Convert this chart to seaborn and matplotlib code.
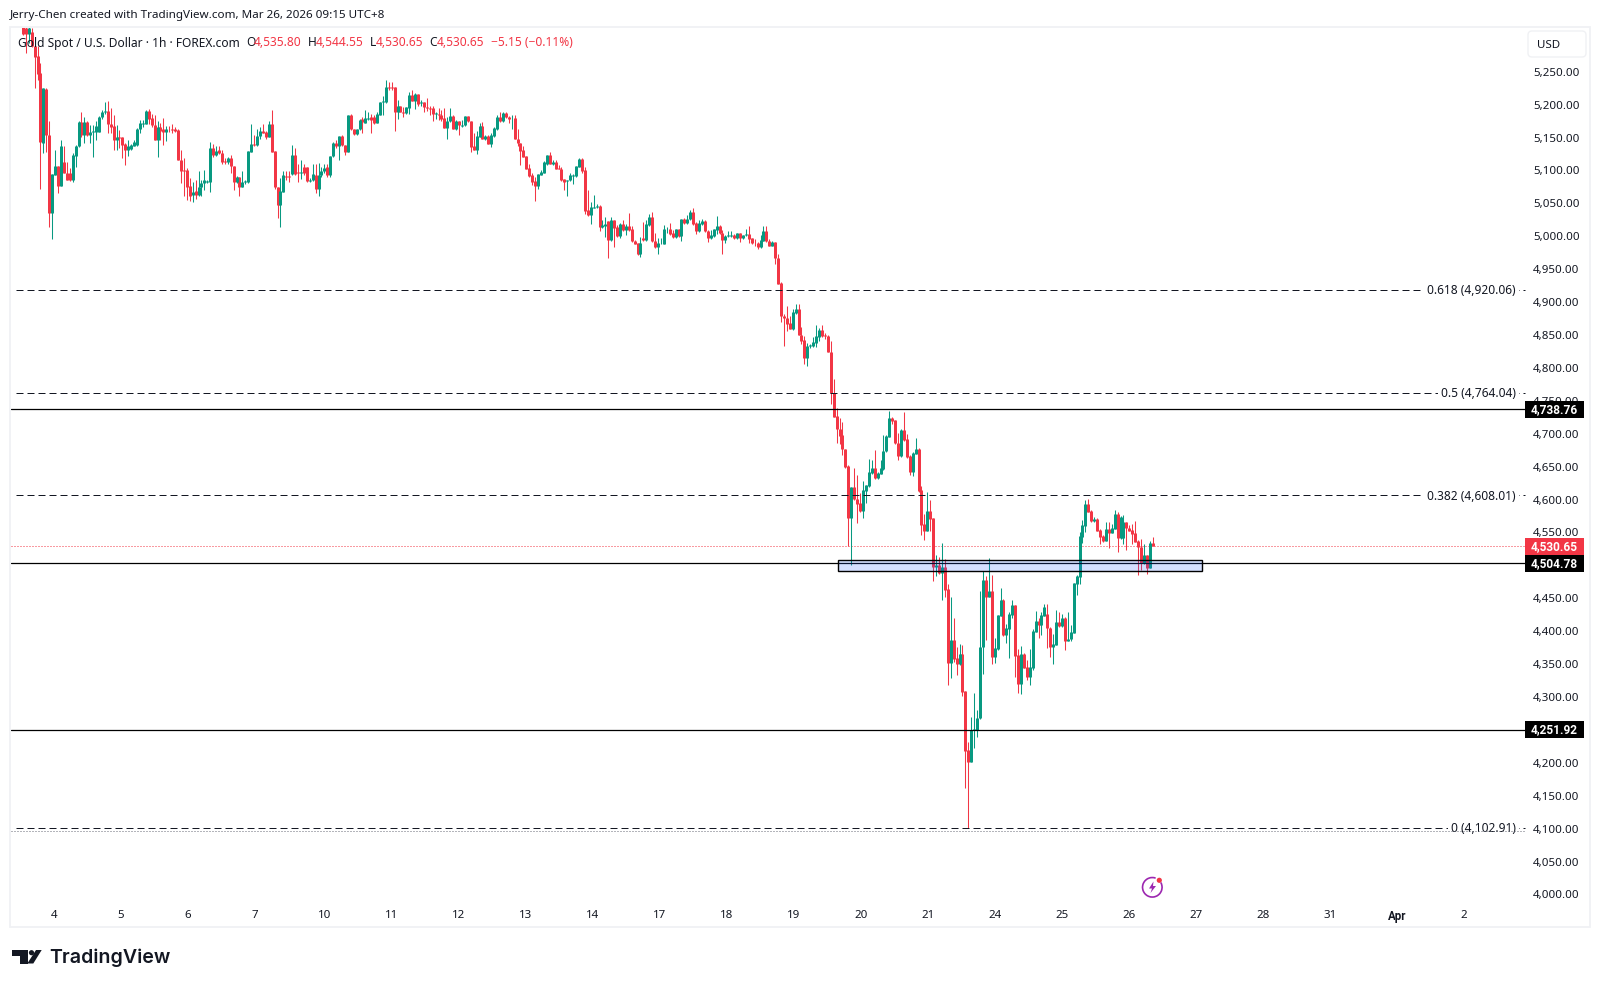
import numpy as np
import pandas as pd
import matplotlib
matplotlib.use("Agg")
import matplotlib.pyplot as plt
from matplotlib.patches import Rectangle, Polygon, Circle, Arc, FancyBboxPatch
from matplotlib.transforms import blended_transform_factory, ScaledTranslation
import seaborn as sns

# Hourly XAU/USD candles, oldest first
opens = [
    5326,5318,5309,5312,5290,5275,5249,5143,5225,5156,5037,5095,5108,5078,5114,5097,5097,5087,5124,5138,
    5175,5155,5175,5155,5160,5160,5160,5182,5190,5192,5172,5169,5147,5152,5152,5141,5132,5134,5139,5140,
    5164,5172,5172,5192,5181,5171,5148,5168,5165,5160,5165,5165,5164,5163,5118,5102,5102,5078,5064,5070,
    5064,5076,5082,5084,5084,5135,5125,5132,5128,5116,5115,5121,5109,5084,5092,5077,5084,5084,5130,5142,
    5140,5154,5162,5160,5153,5172,5131,5076,5049,5069,5093,5093,5096,5125,5099,5097,5106,5106,5086,5087,
    5095,5073,5094,5100,5106,5094,5123,5143,5138,5154,5140,5130,5185,5164,5157,5164,5179,5174,5180,5183,
    5182,5174,5186,
    5206,5206,5228,5228,5228,5190,5199,5191,5189,5197,
    5216,5207,5218,5204,5205,5198,5197,5196,5187,5188,
    5185,5181,5166,5176,5184,5164,5177,5169,5170,5184,
    5176,5138,5132,5153,5169,5149,5154,5142,5154,5165,
    5183,5177,5189,5183,5179,5181,5150,5143,5132,5123,
    5105,5094,5085,5078,5095,5098,5112,5125,5112,5115,
    5105,5104,5088,5085,5087,5093,5093,5107,5119,5102,
    5041,5034,5045,5046,5047,5015,5017,5025,4996,5026,
    5015,5002,5020,5011,5017,5012,4995,4991,4974,4999,
    4996,5019,5031,4995,4985,4991,4990,5012,5012,5006,
    5000,5012,5002,5028,5021,5027,5038,5021,5009,5020,
    5025,5010,4999,5002,5011,5017,5007,4996,5002,5002,
    5003,4999,5006,4999,5003,5005,4999,4992,4991,4985,
    4995,5009,4994,4987,4993,4968,
    4930,4881,4878,4869,4860,4885,4891,4852,4844,4816,
    4835,4835,4840,4849,4859,4851,4850,4826,4763,4728,
    4709,4699,4679,4652,4573,4620,4603,4596,4584,4615,
    4622,4642,4649,4634,4641,4648,4675,4697,4725,4722,
    4688,4667,4707,4693,4667,4643,4671,4678,4616,4564,
    4553,4584,4573,4499,4502,4490,4499,4465,4353,4388,
    4360,4352,4367,4311,4221,4203,4251,4251,4269,4378,
    4479,4454,4463,4363,4375,4425,4449,4396,4405,4426,
    4441,4365,4321,4367,4347,4332,4346,4400,4417,4411,
    4425,4428,4407,4378,4381,4415,4409,4421,4387,4389,
    4399,4473,4484,4545,4562,4595,4584,4569,4572,4555,
    4546,4539,4557,4551,4557,4580,4543,4543,4567,4559,
    4555,4550,4538,4530,4505,4517,4498,4535.80,
]
highs = [
    5332,5320,5330,5318,5291,5290,5264,5226,5226,5176,5096,5132,5108,5148,5138,5114,5105,5128,5140,5177,
    5191,5182,5177,5170,5170,5176,5184,5193,5206,5207,5196,5186,5170,5163,5153,5143,5148,5142,5148,5166,
    5178,5178,5193,5195,5188,5186,5176,5173,5181,5169,5169,5172,5168,5164,5132,5120,5105,5090,5084,5087,
    5100,5087,5102,5087,5145,5142,5138,5138,5132,5121,5122,5125,5109,5093,5092,5100,5087,5131,5172,5155,
    5165,5168,5172,5162,5176,5193,5131,5076,5090,5100,5100,5100,5140,5135,5112,5118,5112,5107,5090,5112,
    5112,5113,5107,5112,5112,5124,5145,5148,5154,5155,5140,5185,5188,5165,5165,5180,5183,5194,5190,5187,
    5186,5191,5206,
    5214,5239,5236,5236,5228,5208,5200,5198,5198,5220,
    5224,5219,5218,5208,5205,5211,5199,5199,5191,5196,
    5193,5196,5183,5196,5186,5178,5177,5178,5184,5184,
    5176,5158,5161,5173,5175,5155,5155,5158,5167,5186,
    5190,5190,5191,5184,5186,5185,5164,5143,5139,5123,
    5112,5097,5091,5096,5102,5116,5125,5129,5118,5118,
    5110,5107,5089,5087,5097,5096,5108,5121,5121,5107,
    5072,5053,5064,5050,5049,5026,5031,5025,5031,5026,
    5018,5021,5026,5020,5037,5017,4996,4991,5000,5023,
    5026,5035,5038,5006,4999,4999,5018,5016,5022,5011,
    5013,5013,5028,5029,5034,5041,5044,5023,5026,5028,
    5026,5011,5011,5012,5032,5019,5011,5003,5009,5009,
    5005,5006,5006,5004,5012,5017,4999,4997,4993,5003,
    5017,5017,4997,4994,4993,4974,
    4932,4884,4895,4880,4891,4898,4899,4864,4850,4839,
    4838,4849,4866,4862,4866,4854,4851,4843,4784,4740,
    4725,4719,4679,4654,4620,4649,4639,4611,4629,4623,
    4663,4661,4677,4643,4661,4699,4699,4736,4727,4723,
    4702,4708,4734,4701,4669,4673,4695,4680,4622,4580,
    4613,4601,4573,4517,4514,4535,4511,4473,4454,4422,
    4377,4382,4381,4311,4233,4271,4307,4282,4463,4493,
    4485,4513,4487,4391,4426,4467,4450,4413,4431,4449,
    4441,4375,4379,4369,4358,4374,4405,4432,4422,4431,
    4443,4443,4408,4397,4434,4431,4428,4423,4431,4411,
    4475,4487,4552,4571,4601,4602,4586,4575,4573,4557,
    4548,4568,4567,4564,4586,4583,4577,4578,4568,4563,
    4564,4569,4540,4542,4534,4517,4539,4544.55,
]
lows = [
    5307,5280,5295,5289,5227,5239,5074,5128,5129,5016,4997,5094,5067,5078,5097,5087,5086,5084,5107,5137,
    5153,5143,5154,5143,5122,5148,5160,5180,5188,5158,5158,5133,5132,5135,5121,5110,5123,5133,5138,5139,
    5158,5168,5172,5172,5168,5148,5122,5148,5140,5146,5160,5158,5160,5118,5082,5062,5057,5055,5053,5058,
    5062,5062,5072,5083,5068,5122,5123,5126,5112,5112,5112,5097,5072,5082,5063,5076,5081,5083,5130,5138,
    5139,5150,5158,5150,5152,5130,5074,5030,5016,5068,5087,5084,5095,5095,5084,5088,5094,5084,5084,5086,
    5067,5062,5092,5097,5092,5092,5122,5135,5117,5139,5125,5129,5163,5155,5156,5163,5158,5173,5178,5158,
    5172,5173,5185,
    5186,5204,5224,5224,5161,5180,5190,5183,5188,5187,
    5207,5195,5199,5199,5191,5192,5186,5177,5180,5178,
    5177,5166,5149,5175,5164,5163,5155,5168,5169,5175,
    5129,5132,5126,5152,5149,5148,5142,5137,5153,5163,
    5175,5175,5181,5174,5164,5149,5139,5110,5122,5104,
    5092,5079,5055,5073,5094,5097,5110,5111,5110,5103,
    5103,5086,5072,5063,5086,5081,5092,5106,5098,5035,
    5032,5020,5044,5045,5009,5014,5001,4968,4995,4985,
    5001,4999,5010,5003,5010,4993,4989,4973,4970,4995,
    4995,5017,4993,4984,4974,4990,4989,5006,5004,4999,
    4999,5001,4994,5020,5020,5026,5019,5005,5008,5019,
    5008,4993,4997,5001,5005,5005,4974,4991,5001,5001,
    4997,4998,4993,4998,5002,4991,4990,4987,4982,4984,
    4994,4993,4986,4986,4959,4929,
    4871,4835,4857,4860,4859,4884,4851,4838,4807,4804,
    4832,4834,4834,4843,4849,4846,4825,4747,4727,4687,
    4686,4669,4650,4531,4502,4601,4566,4583,4573,4596,
    4621,4641,4633,4633,4640,4647,4674,4696,4716,4686,
    4661,4666,4691,4665,4639,4637,4670,4613,4548,4540,
    4553,4554,4478,4485,4488,4449,4454,4320,4330,4355,
    4335,4350,4303,4163,4102.91,4203,4224,4241,4268,4337,
    4388,4454,4352,4353,4373,4424,4394,4384,4361,4422,
    4332,4308,4306,4345,4327,4320,4343,4400,4391,4396,
    4424,4376,4362,4352,4380,4408,4408,4373,4386,4387,
    4398,4456,4473,4536,4552,4582,4568,4568,4553,4534,
    4537,4538,4528,4550,4556,4522,4542,4534,4525,4553,
    4534,4537,4487,4494,4504,4488,4497,4530.65,
]
closes = [
    5309,5309,5318,5290,5274,5248,5144,5226,5156,5037,5096,5108,5078,5138,5097,5087,5087,5125,5139,5175,
    5155,5175,5156,5160,5161,5169,5183,5191,5192,5172,5168,5147,5153,5151,5140,5132,5139,5140,5145,5165,
    5173,5173,5192,5180,5170,5148,5168,5161,5160,5164,5164,5163,5162,5118,5101,5101,5077,5062,5069,5064,
    5077,5083,5087,5086,5136,5125,5131,5128,5115,5115,5121,5109,5084,5092,5077,5084,5085,5131,5142,5140,
    5154,5162,5159,5152,5172,5130,5076,5049,5070,5094,5092,5091,5125,5096,5097,5099,5097,5086,5087,5096,
    5073,5094,5100,5105,5094,5124,5143,5138,5154,5140,5130,5185,5164,5157,5164,5178,5175,5181,5181,5178,
    5174,5187,5205,
    5207,5228,5227,5227,5190,5199,5191,5189,5198,5216,
    5207,5218,5202,5205,5198,5196,5195,5188,5189,5185,
    5180,5166,5177,5184,5164,5177,5170,5171,5184,5176,
    5137,5132,5154,5169,5149,5154,5142,5155,5166,5183,
    5177,5189,5182,5179,5180,5149,5143,5131,5122,5104,
    5093,5084,5078,5096,5099,5114,5125,5112,5115,5104,
    5104,5087,5084,5087,5094,5094,5108,5119,5101,5040,
    5034,5046,5046,5047,5015,5018,5020,4996,5026,5014,
    5002,5020,5011,5017,5011,4994,4990,4974,4992,4996,
    5020,5031,4994,4985,4991,4992,5012,5013,5005,5000,
    5012,5002,5028,5021,5028,5038,5020,5009,5022,5025,
    5009,4999,5003,5012,5017,5006,4996,5002,5003,5003,
    4999,5006,4999,5003,5005,4998,4991,4991,4985,4996,
    5009,4994,4987,4993,4968,4929,
    4880,4877,4868,4860,4886,4891,4851,4843,4816,4835,
    4836,4841,4850,4859,4850,4850,4825,4763,4727,4708,
    4698,4678,4651,4573,4620,4602,4595,4584,4616,4623,
    4643,4649,4634,4642,4649,4676,4698,4725,4721,4687,
    4667,4707,4692,4666,4643,4672,4678,4614,4563,4553,
    4584,4572,4499,4502,4490,4499,4464,4353,4388,4359,
    4352,4367,4309,4220,4203,4251,4253,4270,4378,4479,
    4454,4463,4363,4376,4426,4449,4396,4406,4428,4441,
    4364,4321,4367,4346,4332,4347,4402,4417,4411,4426,
    4438,4406,4378,4382,4415,4409,4421,4387,4390,4400,
    4475,4485,4546,4563,4595,4583,4569,4572,4554,4545,
    4539,4557,4551,4558,4580,4543,4575,4567,4558,4554,
    4549,4537,4529,4505,4517,4498,4535,4530.65,
]

# Axis labels
day_labels = ["4", "5", "6", "7", "10", "11", "12", "13", "14", "17", "18", "19",
              "20", "21", "24", "25", "26", "27", "28", "31", "Apr", "2"]
price_ticks = [5250, 5200, 5150, 5100, 5050, 5000, 4950, 4900, 4850, 4800, 4750, 4700, 4650,
               4600, 4550, 4500, 4450, 4400, 4350, 4300, 4250, 4200, 4150, 4100, 4050, 4000]

# Drawn levels
fib_ratios = ["0.618", "0.5", "0.382", "0"]
fib_levels = [4920.06, 4764.04, 4608.01, 4102.91]
horizontal_levels = [4738.76, 4504.78, 4251.92]
last_price = 4530.65
session_low_guide = 4098
zone_low, zone_high = 4492.5, 4509.2
zone_start_bar, zone_end_bar = 278.6, 402.9

GREEN = "#089981"
RED = "#f23645"
INK = "#131722"
FONT = "Noto Sans"
TICK_SIZE = 8.3
LABEL_SIZE = 8.6

sns.set_theme(style="white", rc={"axes.facecolor": "white", "figure.facecolor": "white"})
plt.rcParams["font.family"] = [FONT, "DejaVu Sans"]

fig = plt.figure(figsize=(16, 9.88), dpi=100)
ax = fig.add_axes([11 / 1600, 1 - 903 / 988, 1514 / 1600, 875 / 988], zorder=1)

candles = pd.DataFrame({"bar": np.arange(len(opens)), "open": opens, "high": highs,
                        "low": lows, "close": closes})
candles["direction"] = np.where(candles["close"] >= candles["open"], "up", "down")
palette = {"up": GREEN, "down": RED}

wicks = candles.melt(id_vars=["bar", "direction"], value_vars=["low", "high"], value_name="price")
bodies = candles.melt(id_vars=["bar", "direction"], value_vars=["open", "close"], value_name="price")

# Wicks first, then the wider bodies on top, one vertical line per bar
sns.lineplot(data=wicks, x="bar", y="price", hue="direction", palette=palette, units="bar",
             estimator=None, legend=False, linewidth=0.75, solid_capstyle="butt", ax=ax, zorder=2)
sns.lineplot(data=bodies, x="bar", y="price", hue="direction", palette=palette, units="bar",
             estimator=None, legend=False, linewidth=2.16, solid_capstyle="butt", ax=ax, zorder=3)

BAR_PX, FIRST_BAR_PX = 2.927, 22.9
ax.set_xlim((11 - FIRST_BAR_PX) / BAR_PX, (1525 - FIRST_BAR_PX) / BAR_PX)
PX_PER_USD = 0.6582
ax.set_ylim(5250 - (903 - 72.7) / PX_PER_USD, 5250 + (72.7 - 28) / PX_PER_USD)

for side in ax.spines.values():
    side.set_visible(False)
ax.set_xlabel("")
ax.set_ylabel("")
ax.yaxis.tick_right()
ax.set_yticks(price_ticks)
ax.set_yticklabels([f"{p:,.2f}" for p in price_ticks], fontsize=TICK_SIZE, color=INK)

# One day is 22.89 bars; the scale steps one extra bar across the first weekend
day_steps = np.arange(len(day_labels))
ax.set_xticks(10.5 + 22.89 * day_steps + 1.1 * (day_steps >= 4))
ax.set_xticklabels(day_labels, fontsize=TICK_SIZE, color=INK)
ax.tick_params(axis="y", length=0, pad=5.8)
ax.tick_params(axis="x", length=0, pad=4.7)
for lab in ax.get_xticklabels():
    if lab.get_text() == "Apr":
        lab.set_fontfamily("Roboto")
        lab.set_fontweight("bold")

# Price labels sit one pixel above their level
nudge_up = ScaledTranslation(0, 1 / 100, fig.dpi_scale_trans)
for lab in ax.get_yticklabels():
    lab.set_transform(lab.get_transform() + nudge_up)

right_edge = blended_transform_factory(ax.transAxes, ax.transData)

# Fibonacci levels: dashed rules with a value label near the price scale
fib_start = (16 - 11) / 1514
for ratio, level in zip(fib_ratios, fib_levels):
    ax.plot([fib_start, 1], [level, level], transform=right_edge, color=INK, lw=0.72,
            ls=(0, (7, 4)), zorder=5, clip_on=False)
    ax.text((1516 - 11) / 1514, level - 1 / PX_PER_USD, f"{ratio} ({level:,.2f})", transform=right_edge,
            ha="right", va="center", fontsize=LABEL_SIZE, color=INK, zorder=6,
            bbox=dict(facecolor="white", edgecolor="none", pad=2.2))

# Solid support and resistance levels
for level in horizontal_levels:
    ax.axhline(level, color="black", lw=0.9, zorder=5)

ax.axhline(last_price, color=RED, lw=0.72, ls=(0, (1, 2)), zorder=1.5)
ax.axhline(session_low_guide, color="#6a6d78", lw=0.72, ls=(0, (1, 2)), zorder=7)

# Demand zone
ax.add_patch(Rectangle((zone_start_bar, zone_low), zone_end_bar - zone_start_bar, zone_high - zone_low,
                       facecolor="#2962ff", alpha=0.2, edgecolor="none", zorder=6))
ax.add_patch(Rectangle((zone_start_bar, zone_low), zone_end_bar - zone_start_bar, zone_high - zone_low,
                       facecolor="none", edgecolor="black", lw=1.0, zorder=6))


def price_tag(level, face):
    height = 17 / PX_PER_USD
    ax.add_patch(Rectangle((1.0, level - height / 2), 59 / 1514, height, transform=right_edge,
                           facecolor=face, edgecolor="none", clip_on=False, zorder=10))
    ax.text(1 + 29.5 / 1514, level, f"{level:,.2f}", transform=right_edge, ha="center", va="center",
            fontsize=8.6, fontweight="bold", family="Roboto", color="white", zorder=11, clip_on=False)


for level in horizontal_levels:
    price_tag(level, "black")
price_tag(last_price, RED)

# Page furniture in pixel coordinates
page = fig.add_axes([0, 0, 1, 1], zorder=5)
page.set_xlim(0, 1600)
page.set_ylim(988, 0)
page.axis("off")
page.patch.set_visible(False)

page.add_patch(Rectangle((10, 27), 1580, 900, facecolor="none", edgecolor="#f0f1f4", lw=1.3))
page.text(10, 15.5, "Jerry-Chen created with TradingView.com, Mar 26, 2026 09:15 UTC+8",
          fontsize=8.4, color=INK, ha="left", va="center")

legend_y = 43
legend_parts = [
    (18, "Gold Spot / U.S. Dollar · 1h · FOREX.com", INK),
    (246, "O", INK), (254, "4,535.80", RED),
    (308, "H", INK), (316, "4,544.55", RED),
    (370, "L", INK), (376, "4,530.65", RED),
    (429, "C", INK), (436.5, "4,530.65", RED),
    (491, "\u22125.15 (\u22120.11%)", RED),
]
for x_px, label, colour in legend_parts:
    page.text(x_px, legend_y, label, fontsize=LABEL_SIZE, color=colour, ha="left", va="center")

page.add_patch(FancyBboxPatch((1530, 33), 54, 22, boxstyle="round,pad=2,rounding_size=4",
                              facecolor="white", edgecolor="#f0f1f4", lw=1.0))
page.text(1537, 45.5, "USD", fontsize=TICK_SIZE, color=INK, ha="left", va="center")

# TradingView mark and wordmark
page.add_patch(Polygon([(12.3, 950), (28.3, 950), (28.3, 963.5), (20, 963.5), (20, 956), (12.3, 956)],
                       closed=True, facecolor="#131722", edgecolor="none"))
page.add_patch(Circle((31.5, 952.7), 2.6, facecolor="#131722", edgecolor="none"))
page.add_patch(Polygon([(36, 950), (41.7, 950), (33.3, 963.5), (27.3, 963.5)],
                       closed=True, facecolor="#131722", edgecolor="none"))
page.text(49, 958, "TradingView", fontsize=14.1, fontweight="semibold", family="Inter",
          color="#131722", ha="left", va="center")

# Lightning badge below the latest candles
PURPLE = "#9c27b0"
page.add_patch(Arc((1152.3, 887.3), 19.5, 19.5, theta1=-30, theta2=290, color=PURPLE, lw=1.2))
page.add_patch(Polygon([(1153.5, 881.5), (1149, 888.5), (1152, 888.5), (1150.5, 893),
                        (1156, 886), (1153, 886)], closed=True, facecolor=PURPLE, edgecolor="none"))
page.add_patch(Circle((1159.3, 880.3), 2.6, facecolor=RED, edgecolor="none"))

fig.savefig("out.png", dpi=100)
